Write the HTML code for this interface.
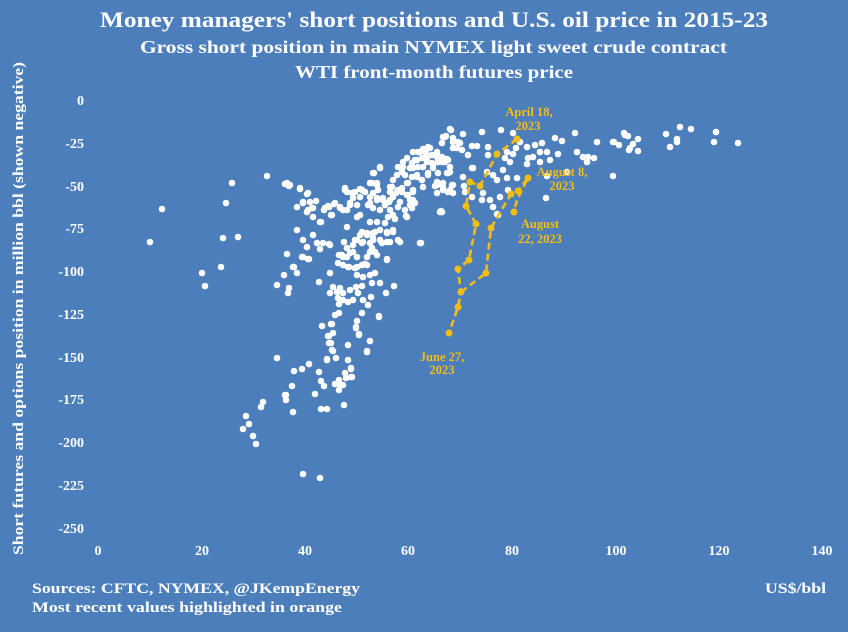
<!DOCTYPE html>
<html><head><meta charset="utf-8"><style>
html,body{margin:0;padding:0;background:#4c7ebb;}
svg{display:block;}
text{font-family:"Liberation Serif",serif;font-weight:bold;fill:#fff;}
.o{fill:#f5bd12;font-size:12.5px;}
.yt{font-size:14px;text-anchor:end;}
.xt{font-size:14px;text-anchor:middle;}
</style></head><body>
<svg width="848" height="632" viewBox="0 0 848 632" xmlns="http://www.w3.org/2000/svg">
<rect width="848" height="632" fill="#4c7ebb"/>
<text x="100" y="27" font-size="22" textLength="668" lengthAdjust="spacingAndGlyphs">Money managers' short positions and U.S. oil price in 2015-23</text>
<text x="140" y="53" font-size="18" textLength="587" lengthAdjust="spacingAndGlyphs">Gross short position in main NYMEX light sweet crude contract</text>
<text x="295" y="78" font-size="18" textLength="278" lengthAdjust="spacingAndGlyphs">WTI front-month futures price</text>
<text transform="translate(23,555) rotate(-90)" font-size="14.5" textLength="493" lengthAdjust="spacingAndGlyphs">Short futures and options position in million bbl (shown negative)</text>
<g class="yt">
<text class="yt" x="84" y="105">0</text>
<text class="yt" x="84" y="148">-25</text>
<text class="yt" x="84" y="191">-50</text>
<text class="yt" x="84" y="233">-75</text>
<text class="yt" x="84" y="276">-100</text>
<text class="yt" x="84" y="319">-125</text>
<text class="yt" x="84" y="362">-150</text>
<text class="yt" x="84" y="404">-175</text>
<text class="yt" x="84" y="447">-200</text>
<text class="yt" x="84" y="490">-225</text>
<text class="yt" x="84" y="533">-250</text>
</g>
<text class="xt" x="98" y="555">0</text>
<text class="xt" x="202" y="555">20</text>
<text class="xt" x="305" y="555">40</text>
<text class="xt" x="408" y="555">60</text>
<text class="xt" x="512" y="555">80</text>
<text class="xt" x="616" y="555">100</text>
<text class="xt" x="719" y="555">120</text>
<text class="xt" x="822" y="555">140</text>
<text x="32" y="593" font-size="15" textLength="328" lengthAdjust="spacingAndGlyphs">Sources: CFTC, NYMEX, @JKempEnergy</text>
<text x="32" y="612" font-size="15" textLength="310" lengthAdjust="spacingAndGlyphs">Most recent values highlighted in orange</text>
<text x="765" y="593" font-size="15" textLength="61" lengthAdjust="spacingAndGlyphs">US$/bbl</text>
<path fill="none" stroke="#fff" stroke-width="6.6" stroke-linecap="round" d="
M162 209h0M150 242h0M232 183h0M267 176h0M226 203h0M223 238h0M238 237h0M221 267h0M202 273h0M205 286h0
M285 184h0M289 186h0M300 189h0M307 194h0M297 207h0M303 203h0M308 210h0M313 208h0M313 217h0M316 201h0M321 222h0M324 210h0M329 207h0M334 204h0M340 208h0M331 215h0
M297 230h0M303 240h0M307 247h0M313 235h0M317 243h0M323 243h0M320 249h0M329 244h0M287 254h0M303 257h0M309 259h0M294 267h0M297 273h0M284 275h0M277 285h0M289 288h0M288 293h0
M319 282h0M330 273h0M338 263h0M344 242h0M347 227h0M339 255h0M343 257h0M349 267h0M355 268h0M362 265h0M367 265h0M357 275h0M363 277h0M370 275h0M375 273h0M380 283h0M372 283h0M362 286h0
M333 287h0M340 288h0M337 292h0M343 293h0M350 290h0M356 287h0M358 293h0M330 293h0M338 298h0M343 300h0M348 302h0M353 300h0M339 304h0M363 300h0M368 305h0M371 297h0M386 293h0M394 286h0M387 260h0
M362 313h0M379 316h0M335 315h0M339 313h0M322 326h0M332 324h0M357 321h0M356 328h0M333 333h0M328 336h0M329 343h0M332 350h0M359 334h0M370 341h0M367 352h0M348 345h0M336 358h0M327 360h0M348 360h0M351 368h0M345 373h0M352 377h0M339 380h0M343 385h0M339 390h0
M277 358h0M294 371h0M302 369h0M309 364h0M319 372h0M321 381h0M324 386h0M292 386h0M286 395h0M286 400h0M315 394h0M263 402h0M261 407h0M293 412h0M321 409h0M327 409h0M344 405h0M246 416h0M249 424h0M243 429h0M253 436h0M256 444h0M303 474h0M320 478h0
M380 167h0M373 173h0M345 190h0M352 193h0M360 189h0M370 183h0M377 185h0M373 193h0M383 198h0M389 202h0M396 193h0M392 187h0M377 200h0M370 203h0M357 205h0M350 203h0M347 210h0M360 215h0M370 222h0M377 222h0M385 223h0M393 230h0M387 233h0M375 232h0M367 233h0M360 235h0M355 240h0M363 242h0M373 240h0M382 243h0M387 242h0M372 248h0M375 252h0M350 253h0M357 257h0M367 257h0
M451 130h0M446 136h0M453 142h0M442 143h0M457 148h0M428 147h0M423 149h0M418 152h0M413 152h0M437 153h0M432 155h0M426 153h0M422 158h0M415 160h0M407 158h0M403 162h0M412 163h0M427 162h0M432 163h0M438 162h0M445 162h0M448 160h0M418 167h0M423 167h0M433 168h0M410 168h0M398 167h0M402 172h0M448 173h0M438 173h0M428 173h0M417 175h0M422 180h0M437 182h0M443 183h0M452 185h0M435 186h0M443 190h0M448 192h0M453 193h0M412 177h0M407 183h0M397 175h0M393 180h0M390 187h0M398 190h0M402 192h0M408 195h0M413 192h0M380 168h0M374 173h0M377 183h0M372 183h0M378 190h0M373 193h0M365 192h0M362 190h0M390 192h0M393 197h0M400 202h0M410 200h0M415 203h0M412 208h0M407 217h0M398 207h0M390 200h0M383 200h0M377 198h0M370 197h0M360 197h0M355 192h0M347 192h0M345 188h0M353 198h0M350 205h0M343 210h0M357 217h0M368 205h0M373 208h0M380 210h0M385 205h0M390 210h0M393 215h0M388 217h0M395 219h0M441 211h0M420 243h0
M287 183h0M290 185h0M300 188h0M308 193h0M303 202h0M310 202h0M312 208h0M307 212h0M320 222h0M328 206h0M335 203h0M340 207h0M332 215h0M325 208h0M330 245h0M302 257h0M308 259h0M293 267h0
M357 240h0M362 232h0M367 235h0M373 233h0M380 230h0M387 232h0M393 232h0M398 240h0M390 242h0M380 240h0M373 238h0M370 243h0M362 243h0M353 245h0M347 248h0M342 255h0M347 257h0M353 252h0M370 252h0M377 255h0M387 259h0M343 265h0M348 267h0M357 267h0M365 264h0
M285 395h0M335 384h0M340 385h0M346 378h0M351 377h0M351 369h0M327 359h0M333 351h0M331 343h0M329 336h0M331 324h0M367 351h0M359 335h0M356 327h0M357 321h0M379 317h0
M450 129h0M443 137h0M460 143h0M463 134h0M420 152h0M430 148h0M437 152h0M417 160h0M427 158h0M437 157h0M445 160h0M403 167h0M413 168h0M433 165h0M442 162h0M450 167h0M405 175h0M417 177h0M428 175h0M450 172h0M408 183h0M423 187h0M437 185h0M443 187h0M453 185h0M402 188h0M413 190h0M407 195h0M413 200h0M410 205h0M405 210h0M406 216h0M440 212h0M421 243h0M400 242h0M447 173h0M437 193h0M450 190h0M463 177h0M472 168h0M464 186h0
M445 137h0M453 138h0M458 142h0M482 132h0M501 130h0M513 133h0M520 142h0M516 148h0M507 152h0M513 154h0M488 147h0M477 146h0M472 146h0M462 150h0M453 148h0M468 155h0M488 155h0M505 158h0M510 162h0M447 159h0M442 157h0M473 168h0M487 172h0M493 175h0M503 170h0M497 180h0M507 178h0M517 178h0M447 173h0M443 183h0M448 192h0M465 192h0M472 197h0M483 193h0M500 197h0M508 190h0M482 200h0M490 200h0M493 207h0M442 212h0M498 215h0M527 147h0M535 145h0M542 143h0M540 152h0M547 152h0M533 157h0M528 158h0M527 164h0M540 162h0M550 160h0M558 154h0M555 138h0M562 141h0M575 133h0M577 152h0M583 157h0M588 157h0M594 158h0M587 162h0M597 142h0M567 172h0M547 176h0M613 142h0M625 135h0M630 148h0M613 176h0M546 198h0M497 214h0
M624 133h0M628 136h0M638 139h0M614 142h0M619 145h0M633 144h0M629 150h0M638 151h0M666 134h0M680 127h0M691 129h0M677 139h0M677 142h0M670 147h0M716 132h0M714 142h0M738 143h0
"/>
<g stroke="#f5bd12" stroke-width="2.6" fill="none" stroke-dasharray="7,4">
<polyline points="517,139 497,154 480,186 470,182 466,206 476,224 469,260 458,269 461,292 458,307 449,333"/>
<polyline points="461,292 486,273 491,228 511,194 518,191 528,178 517,200 514,212"/>
</g>
<path fill="none" stroke="#f5bd12" stroke-width="7" stroke-linecap="round" d="M517 139h0M497 154h0M480 186h0M470 182h0M466 206h0M476 224h0M469 260h0M458 269h0M461 292h0M458 307h0M449 333h0M486 273h0M491 228h0M511 194h0M518 191h0M528 178h0M514 212h0"/>
<text class="o" x="529" y="116" text-anchor="middle">April 18,</text>
<text class="o" x="528" y="130" text-anchor="middle">2023</text>
<text class="o" x="562" y="176" text-anchor="middle">August 8,</text>
<text class="o" x="562" y="190" text-anchor="middle">2023</text>
<text class="o" x="540" y="228" text-anchor="middle">August</text>
<text class="o" x="540" y="243" text-anchor="middle">22, 2023</text>
<text class="o" x="442" y="361" text-anchor="middle">June 27,</text>
<text class="o" x="442" y="374" text-anchor="middle">2023</text>
</svg>
</body></html>
